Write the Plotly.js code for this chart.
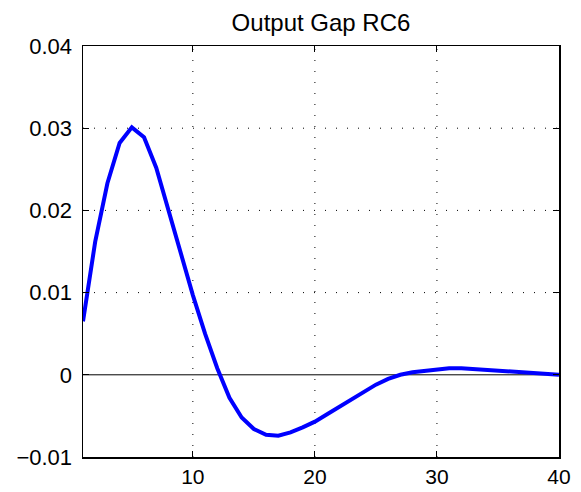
<!DOCTYPE html>
<html>
<head>
<meta charset="utf-8">
<script src="https://cdn.plot.ly/plotly-3.0.1.min.js"></script>
<style>html,body{margin:0;padding:0;background:#fff;}#chart{width:581px;height:492px;}</style>
</head>
<body>
<div id="chart"></div>
<script>
const periods = [1,2,3,4,5,6,7,8,9,10,11,12,13,14,15,16,17,18,19,20,21,22,23,24,25,26,27,28,29,30,31,32,33,34,35,36,37,38,39,40];
const outputGap = [0.0065,0.0162,0.0233,0.0282,0.0301,0.0289,0.0252,0.0201,0.0147,0.0097,0.0050,0.0008,-0.0028,-0.0052,-0.0066,-0.0073,-0.0074,-0.0070,-0.0064,-0.0057,-0.0048,-0.0039,-0.0029,-0.0020,-0.0012,-0.0005,0.0000,0.0003,0.0005,0.0007,0.0008,0.0008,0.0007,0.0006,0.0005,0.0004,0.0003,0.0002,0.0001,0.0000];
const xTicks = [10,20,30,40];
const yTicks = [-0.01,0,0.01,0.02,0.03,0.04];
const yTickText = ['\u22120.01','0','0.01','0.02','0.03','0.04'];

const font = {family: 'Liberation Sans, Arial, sans-serif', color: '#000'};
const traces = [{
  x: periods, y: outputGap, type: 'scatter', mode: 'lines',
  line: {color: '#0000ff', width: 4}, hoverinfo: 'skip'
}];
const shapes = [];
const dotted = {color: '#000', width: 1, dash: '1px,10px'};
[10,20,30].forEach(v => shapes.push({type:'line', xref:'x', yref:'paper', x0:v, x1:v, y0:0, y1:1, line:dotted, layer:'below'}));
[0.01,0.02,0.03].forEach(v => shapes.push({type:'line', xref:'paper', yref:'y', x0:0, x1:1, y0:v, y1:v, line:dotted, layer:'below'}));
shapes.push({type:'line', xref:'paper', yref:'y', x0:0, x1:1, y0:0, y1:0, line:{color:'#000', width:1}, layer:'below'});

const layout = {
  width: 581, height: 492,
  margin: {l: 83, r: 22, t: 46, b: 35},
  paper_bgcolor: '#fff', plot_bgcolor: '#fff',
  showlegend: false,
  title: {text: 'Output Gap RC6', font: Object.assign({size: 24}, font), xref: 'paper', x: 0.5, xanchor: 'center', yref: 'container', y: 0.955, yanchor: 'middle'},
  xaxis: {
    range: [1, 40], tickvals: xTicks, ticktext: xTicks.map(String),
    ticks: 'inside', ticklen: 6, tickcolor: '#000', tickwidth: 1,
    ticklabelstandoff: 0,
    showgrid: false, zeroline: false, showline: true, mirror: 'ticks',
    linecolor: '#000', linewidth: 1.5,
    tickfont: Object.assign({size: 21}, font)
  },
  yaxis: {
    range: [-0.01, 0.04], tickvals: yTicks, ticktext: yTickText,
    ticks: 'inside', ticklen: 6, tickcolor: '#000', tickwidth: 1,
    ticklabelstandoff: 5,
    showgrid: false, zeroline: false, showline: true, mirror: 'ticks',
    linecolor: '#000', linewidth: 1.5,
    tickfont: Object.assign({size: 22}, font)
  },
  shapes: shapes
};
Plotly.newPlot('chart', traces, layout, {staticPlot: true, displayModeBar: false});
</script>
</body>
</html>
